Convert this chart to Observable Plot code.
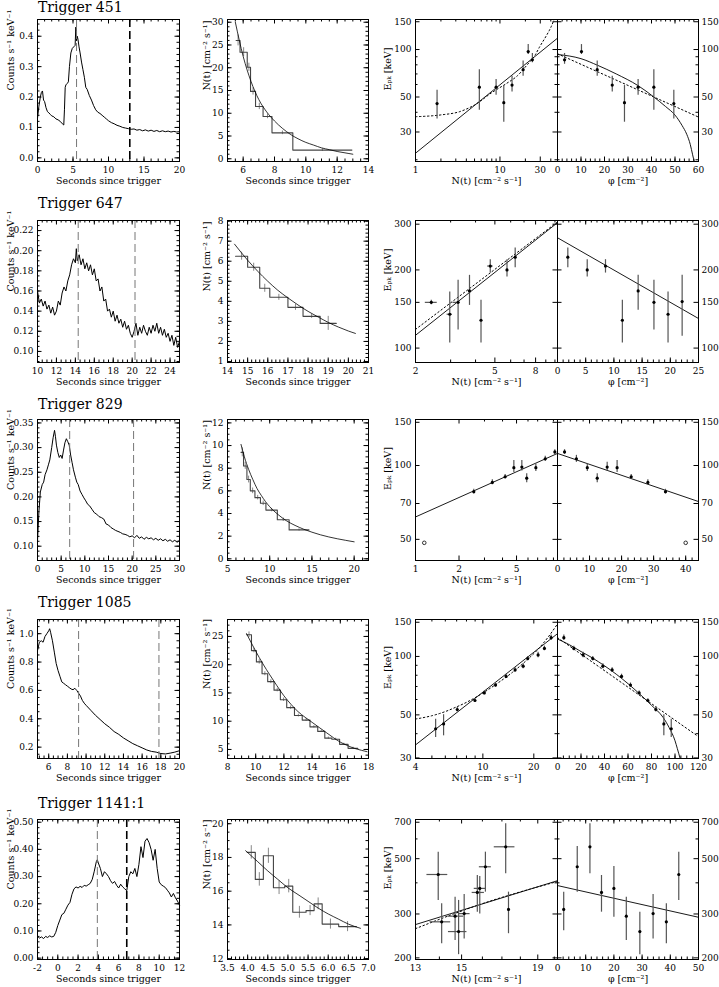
<!DOCTYPE html>
<html><head><meta charset="utf-8">
<script src="https://cdn.jsdelivr.net/npm/d3@7"></script>
<script src="https://cdn.jsdelivr.net/npm/@observablehq/plot@0.6"></script>
<style>
html,body{margin:0;padding:0;background:#fff;}
#fig{position:relative;width:719px;height:987px;overflow:hidden;background:#fff;}
.ttl{position:absolute;left:38px;font-family:'DejaVu Serif','Liberation Serif',serif;font-size:14px;line-height:1;white-space:nowrap;color:#000;}
</style></head><body><div id="fig"></div>
<script>
// ---------------- DATA ----------------
const titles = ["Trigger 451", "Trigger 647", "Trigger 829", "Trigger 1085", "Trigger 1141:1"];

// light curves [t, counts]
const lc451 = [[0,0.13],[0.2,0.17],[0.4,0.2],[0.55,0.215],[0.7,0.22],[0.85,0.19],[1.0,0.185],[1.2,0.165],[1.4,0.152],[1.6,0.148],[1.8,0.143],[2.0,0.138],[2.3,0.135],[2.6,0.128],[2.9,0.125],[3.2,0.12],[3.5,0.112],[3.7,0.108],[3.8,0.16],[3.9,0.232],[4.0,0.24],[4.2,0.245],[4.35,0.25],[4.5,0.3],[4.7,0.345],[4.9,0.36],[5.1,0.365],[5.3,0.37],[5.4,0.43],[5.5,0.385],[5.6,0.4],[5.7,0.39],[5.85,0.365],[6.0,0.345],[6.2,0.315],[6.4,0.29],[6.6,0.265],[6.8,0.232],[7.0,0.225],[7.3,0.205],[7.6,0.19],[7.9,0.172],[8.2,0.158],[8.5,0.15],[8.8,0.146],[9.1,0.14],[9.4,0.134],[9.7,0.128],[10.0,0.122],[10.4,0.116],[10.8,0.112],[11.2,0.107],[11.6,0.104],[12.0,0.1],[12.4,0.098],[12.8,0.096],[13.2,0.094],[13.6,0.095],[14.0,0.091],[14.4,0.093],[14.8,0.089],[15.2,0.092],[15.6,0.088],[16.0,0.091],[16.4,0.087],[16.8,0.09],[17.2,0.086],[17.6,0.089],[18.0,0.086],[18.4,0.088],[18.8,0.085],[19.2,0.087],[19.6,0.085],[20.0,0.086]];
const lc647 = [[10.0,0.160],[10.2,0.148],[10.4,0.152],[10.6,0.145],[10.8,0.150],[11.0,0.142],[11.2,0.146],[11.4,0.138],[11.6,0.144],[11.8,0.136],[12.0,0.140],[12.2,0.150],[12.4,0.146],[12.6,0.158],[12.8,0.164],[13.0,0.160],[13.2,0.170],[13.4,0.176],[13.6,0.186],[13.8,0.192],[14.0,0.188],[14.1,0.202],[14.2,0.190],[14.4,0.196],[14.6,0.186],[14.8,0.192],[15.0,0.182],[15.2,0.188],[15.4,0.180],[15.6,0.186],[15.8,0.176],[16.0,0.182],[16.2,0.170],[16.4,0.172],[16.6,0.160],[16.8,0.164],[17.0,0.150],[17.2,0.152],[17.4,0.140],[17.6,0.142],[17.8,0.134],[18.0,0.140],[18.2,0.130],[18.4,0.136],[18.6,0.128],[18.8,0.132],[19.0,0.124],[19.2,0.130],[19.4,0.122],[19.6,0.126],[19.8,0.118],[20.0,0.114],[20.2,0.120],[20.4,0.128],[20.6,0.116],[20.8,0.124],[21.0,0.118],[21.2,0.126],[21.4,0.120],[21.6,0.116],[21.8,0.124],[22.0,0.118],[22.2,0.126],[22.4,0.120],[22.6,0.128],[22.8,0.118],[23.0,0.124],[23.2,0.116],[23.4,0.122],[23.6,0.114],[23.8,0.118],[24.0,0.110],[24.2,0.116],[24.4,0.106],[24.6,0.114],[24.8,0.104],[25.0,0.110]];
const lc829 = [[0.0,0.110],[0.3,0.170],[0.6,0.210],[1.0,0.225],[1.3,0.230],[1.6,0.245],[2.0,0.255],[2.3,0.265],[2.6,0.275],[3.0,0.300],[3.3,0.320],[3.6,0.335],[3.8,0.322],[4.0,0.305],[4.3,0.290],[4.6,0.280],[4.9,0.285],[5.2,0.278],[5.5,0.295],[5.8,0.310],[6.1,0.318],[6.4,0.312],[6.7,0.305],[7.0,0.285],[7.3,0.270],[7.6,0.255],[8.0,0.240],[8.3,0.230],[8.6,0.225],[9.0,0.212],[9.4,0.205],[9.8,0.198],[10.2,0.192],[10.6,0.185],[11.0,0.182],[11.5,0.175],[12.0,0.168],[12.5,0.165],[13.0,0.160],[13.5,0.158],[14.0,0.155],[14.5,0.145],[15.0,0.143],[15.5,0.138],[16.0,0.135],[16.5,0.132],[17.0,0.130],[17.5,0.128],[18.0,0.125],[18.5,0.124],[19.0,0.122],[19.5,0.119],[20.0,0.121],[20.5,0.117],[21.0,0.122],[21.5,0.116],[22.0,0.119],[22.5,0.114],[23.0,0.118],[23.5,0.115],[24.0,0.117],[24.5,0.113],[25.0,0.116],[25.5,0.112],[26.0,0.115],[26.5,0.111],[27.0,0.114],[27.5,0.110],[28.0,0.113],[28.5,0.109],[29.0,0.112],[29.5,0.108],[30.0,0.112]];
const lc1085 = [[4.8,0.880],[5.0,0.940],[5.2,0.950],[5.4,0.940],[5.6,0.980],[5.8,1.000],[6.0,1.020],[6.1,1.035],[6.2,1.010],[6.4,0.950],[6.6,0.870],[6.8,0.790],[7.0,0.740],[7.2,0.700],[7.4,0.660],[7.6,0.650],[7.8,0.640],[8.0,0.630],[8.2,0.620],[8.4,0.610],[8.6,0.605],[8.8,0.615],[9.0,0.600],[9.2,0.580],[9.4,0.560],[9.6,0.530],[9.8,0.510],[10.0,0.495],[10.5,0.460],[11.0,0.425],[11.5,0.395],[12.0,0.365],[12.5,0.340],[13.0,0.310],[13.5,0.290],[14.0,0.265],[14.5,0.245],[15.0,0.225],[15.5,0.210],[16.0,0.195],[16.5,0.180],[17.0,0.170],[17.5,0.165],[18.0,0.155],[18.5,0.152],[19.0,0.158],[19.5,0.165],[20.0,0.175]];
const lc1141 = [[-2.0,0.080],[-1.8,0.074],[-1.6,0.078],[-1.4,0.072],[-1.2,0.080],[-1.0,0.076],[-0.8,0.082],[-0.6,0.078],[-0.4,0.080],[-0.2,0.095],[0.0,0.120],[0.2,0.140],[0.4,0.160],[0.6,0.165],[0.8,0.180],[1.0,0.195],[1.2,0.205],[1.4,0.235],[1.6,0.255],[1.8,0.262],[2.0,0.258],[2.2,0.264],[2.4,0.260],[2.6,0.268],[2.8,0.265],[3.0,0.270],[3.2,0.275],[3.4,0.290],[3.6,0.320],[3.8,0.355],[3.9,0.362],[4.0,0.350],[4.2,0.330],[4.4,0.300],[4.6,0.318],[4.8,0.310],[5.0,0.300],[5.2,0.285],[5.4,0.275],[5.6,0.282],[5.8,0.268],[6.0,0.258],[6.2,0.272],[6.4,0.262],[6.6,0.255],[6.8,0.248],[7.0,0.300],[7.2,0.318],[7.4,0.310],[7.6,0.330],[7.8,0.300],[8.0,0.345],[8.2,0.410],[8.4,0.370],[8.6,0.430],[8.8,0.440],[9.0,0.425],[9.2,0.400],[9.4,0.360],[9.6,0.400],[9.8,0.330],[10.0,0.280],[10.2,0.270],[10.4,0.265],[10.6,0.260],[10.8,0.250],[11.0,0.240],[11.2,0.225],[11.4,0.238],[11.6,0.222],[11.8,0.210],[12.0,0.195]];

// dashed interval markers (s)
const dash451 = [5.5, 13.0], dash647 = [14.3, 20.3], dash829 = [6.8, 20.3], dash1085 = [9.2, 17.8], dash1141 = [3.9, 6.8];

// N(t) binned histograms: edges, levels, errors
const bins451E = [5.55,5.8,6.26,6.47,6.79,7.27,7.84,9.17,12.94];
const bins451N = [26,23.4,20.1,14.8,11.5,9.3,5.7,1.9];
const bins451Err = [1.2,1.0,0.9,0.8,0.7,0.5,0.4,0.3];
const bins647E = [14.4,15.0,15.6,16.1,17.0,17.75,18.6,19.4];
const bins647N = [6.25,5.7,4.65,4.2,3.7,3.25,2.9];
const bins647Err = [0.2,0.2,0.2,0.15,0.15,0.1,0.35];
const bins829E = [6.6,6.9,7.3,7.7,8.25,8.9,9.55,10.9,12.3,14.65];
const bins829N = [9.4,8.2,7.0,6.0,5.4,4.9,4.3,3.45,2.55];
const bins829Err = [0.4,0.3,0.3,0.25,0.2,0.2,0.15,0.15,0.1];
const bins1085E = [9.35,9.7,10.05,10.45,10.85,11.3,11.75,12.2,12.75,13.3,13.85,14.4,14.9,15.4,15.95,16.55,17.25];
const bins1085N = [25.3,22.5,20.5,18.4,17.0,15.5,13.8,12.4,11.0,10.2,9.0,8.2,7.0,6.8,5.9,5.2];
const bins1085Err = [0.5,0.4,0.4,0.35,0.35,0.3,0.3,0.3,0.25,0.25,0.2,0.2,0.2,0.2,0.2,0.2];
const bins1141E = [3.99,4.19,4.39,4.64,4.92,5.12,5.45,5.65,5.85,6.26,6.7];
const bins1141N = [18.3,16.7,18.1,16.2,16.3,14.75,14.85,15.25,14.05,13.9];
const bins1141Err = [0.4,0.4,0.45,0.4,0.4,0.35,0.3,0.35,0.3,0.3];

// N(t) fitted decays [t, N]
const fit451 = [[5.5,30],[6,22.5],[6.5,17],[7,13],[7.5,10.3],[8,8.3],[8.5,6.7],[9,5.4],[9.5,4.4],[10,3.6],[10.5,3.0],[11,2.4],[11.5,2.0],[12,1.6],[12.5,1.3],[13,1.0]];
const fit647 = [[14.35,6.85],[15,6.05],[15.5,5.5],[16,5.0],[16.5,4.55],[17,4.17],[17.5,3.82],[18,3.5],[18.5,3.22],[19,2.95],[19.5,2.72],[20,2.52],[20.35,2.4]];
const fit829 = [[6.6,10.1],[7,9.0],[7.5,7.9],[8,7.0],[8.5,6.2],[9,5.6],[9.5,5.05],[10,4.6],[11,3.9],[12,3.35],[13,2.95],[14,2.62],[15,2.35],[16,2.12],[17,1.93],[18,1.77],[19,1.63],[20,1.5]];
const fit1085 = [[9.35,25.5],[10,22.4],[10.5,20.2],[11,18.2],[11.5,16.3],[12,14.5],[12.5,13.0],[13,11.7],[13.5,10.7],[14,9.8],[14.5,8.9],[15,8.0],[15.5,7.1],[16,6.3],[16.5,5.7],[17,5.2],[17.5,4.85],[17.9,4.6]];
const fit1141 = [[3.95,18.4],[4.25,17.75],[4.5,17.2],[4.75,16.7],[5.0,16.2],[5.25,15.8],[5.5,15.4],[5.75,15.0],[6.0,14.65],[6.25,14.35],[6.5,14.05],[6.8,13.8]];

// Epk vs N(t): [N, Epk, lo, hi, (Nlo, Nhi)]
const epN451 = [[1.8,45.4,36.3,55.1],[5.7,57.7,41.2,74.5],[9.0,57.7,51.3,64.5],[11.1,46,34.6,59.1],[13.9,59.5,53.8,67.6],[18.8,74.5,67.6,84.6],[21.6,97,93,107.5],[24.2,86,82.4,94.4]];
const epN647 = [[2.4,150,147,153,2.24,2.57],[2.97,135,104.5,164.5,2.88,3.06],[3.27,150,117.5,182.4,3.08,3.32],[3.73,166,146,190.6],[4.26,128,104.5,153],[4.74,207,194.5,219,4.6,4.9],[5.75,200,187.7,219],[6.32,224,204,243]];
const epN829 = [[2.53,78.2,76.5,80],[3.4,85.3,83.5,87.5],[4.17,90,88,92],[4.79,98,93.7,104.7],[5.44,98.5,94.9,104.7],[5.88,88.8,85,92.5],[6.8,98,94.5,101.5],[7.9,106.5,104,109],[9.2,113.6,111,116]];
const epN829open = [[1.15,48.4]];
const epN1085 = [[5.26,42.4,38.2,47.5],[5.86,44.9,39.0,50.1],[7.06,53.3,51.8,54.8],[8.98,59.3,58,60.6],[10.2,64.9,63.5,66.3],[11.88,71.2,69.5,73],[13.72,78.9,77,81],[15.5,85.2,83,87.5],[17.3,89.1,86.5,91.7],[18.4,97.5,95,100],[21.2,101.8,98.5,105],[23.1,110,107,113],[25.3,125,121,129]];
const epN1141 = [[13.95,432,340,531,13.47,14.37],[14.1,279,228,330,13.6,14.5],[14.7,294,235,350,14.37,15.1],[14.86,255,206,340,14.4,15.25],[15.12,301,238,359,14.85,15.4],[15.75,366,305,428,15.5,16.1],[15.87,380,300,424,15.6,16.2],[16.15,464,367,531,15.85,16.45],[17.2,558,435,690,16.6,17.7],[17.35,313,250,367]];

// Epk vs fluence phi: [phi, Epk, lo, hi]
const epF451 = [[3.0,86,80.6,94.4],[10.2,97,93,107.5],[16.9,74.5,67.6,84.6],[23.3,59.5,53.8,67.6],[28.5,46,34.6,59.1],[34.3,57.7,51.3,64.5],[41,57.7,41.2,74.5],[49.5,45.4,36.3,55.1]];
const epF647 = [[1.83,224,204,243],[5.27,200,187.7,219],[8.51,207,194.5,219],[11.5,128,104.5,153],[14.3,166,140,190.6],[17.1,150,117.5,182.4],[19.6,135,104.5,164.5],[22.1,151,111,190.6]];
const epF829 = [[2.2,113.6,111,116],[5.9,106.5,103,110],[9.3,98,94.5,101.5],[12.4,88.8,85,92.5],[15.5,98.5,95,103],[18.6,98,93.7,104.7],[23,90,88,92],[28.2,85.3,83.5,87.5],[33.7,78.2,76.5,80]];
const epF829open = [[40,48.4]];
const epF1085 = [[5.4,125,121,129],[13.9,110,107,113],[21.8,101.8,98.5,105],[30,97.5,95,100],[38.6,89.1,86.5,91.7],[46.5,85.2,83,87.5],[54.5,78.9,77,81],[62.1,71.2,69.5,73],[69.5,64.9,63.5,66.3],[76.9,59.3,58,60.6],[83.7,53.3,51.8,54.8],[90.5,44.9,39.0,50.1],[96.8,42.4,38.2,47.5]];
const epF1141 = [[2.2,313,257,367],[7.0,464,367,560],[11.5,558,435,690],[15.6,366,305,428],[20,380,291,465],[24.4,294,235,350],[29.2,255,206,305],[33.9,301,238,359],[38.6,279,228,330],[43,432,340,531]];

// model curves
const solN451 = [[1,22],[48,118]];
const dotN451 = [[1,37.5],[2,38.5],[3.4,40.5],[5,44.5],[8.3,54],[12,61],[16,68],[21,80],[26,92],[29.5,104],[35,121],[40,138],[44,156]];
const solF451 = [[0,93],[10,87.5],[17,79.5],[25,70],[34.3,59],[41,50],[46,43.5],[50,38.4],[53,33],[55,29],[56.5,25],[57.5,21.5],[58.2,19.4]];
const dotF451 = [[0,94],[60,37.3]];
const solN647 = [[2,112],[10.3,304]];
const dotN647 = [[2,118],[10.3,306]];
const solF647 = [[0,266],[25,130]];
const solN829 = [[1,61.7],[9.6,112]];
const solF829 = [[0,112],[44,71.3]];
const solN1085 = [[4,35],[27.6,131]];
const dotN1085 = [[4,47.6],[5,49.5],[6,52],[7,55],[8,58],[10,64.8],[12,72],[15,83],[18,95],[21,108],[24,124],[27.6,147]];
const solF1085 = [[0,123],[10,115],[20,106],[30,98],[40,89.5],[50,81],[60,72.4],[70,64],[80,56],[90,48.4],[95,43],[100,36.8],[102,33.5],[104.5,29.6]];
const dotF1085 = [[0,125],[120,38.6]];
const solN1141 = [[13,272],[20.2,408]];
const dotN1141 = [[13,262],[16,330],[20.2,405]];
const solF1141 = [[0,390],[50,291]];

// tick labels
const lcX451 = [0,5,10,15,20], lcY451 = [0,0.1,0.2,0.3,0.4];
const lcX647 = [10,12,14,16,18,20,22,24], lcY647 = [0.10,0.12,0.14,0.16,0.18,0.20,0.22];
const lcX829 = [0,5,10,15,20,25,30], lcY829 = [0.10,0.15,0.20,0.25,0.30,0.35];
const lcX1085 = [6,8,10,12,14,16,18,20], lcY1085 = [0.2,0.4,0.6,0.8,1.0];
const lcX1141 = [-2,0,2,4,6,8,10,12], lcY1141 = [0,0.1,0.2,0.3,0.4,0.5];
const nX451 = [6,8,10,12,14], nY451 = [0,5,10,15,20,25,30];
const nX647 = [14,15,16,17,18,19,20,21], nY647 = [1,2,3,4,5,6,7,8];
const nX829 = [5,10,15,20], nY829 = [0,2,4,6,8,10,12];
const nX1085 = [8,10,12,14,16,18], nY1085 = [5,10,15,20,25];
const nX1141 = [3.5,4.0,4.5,5.0,5.5,6.0,6.5,7.0], nY1141 = [12,14,16,18,20];
const eNX451 = [1,10,30], eNXm451 = [2,3,4,5,6,7,8,9,20,40], eY451 = [30,50,100,150], eYm451 = [20,40,60,70,80,90];
const eNX647 = [2,5,8], eNXm647 = [3,4,6,7,9,10], eY647 = [100,150,200,300], eYm647 = [];
const eNX829 = [1,2,5], eNXm829 = [3,4,6,7,8,9], eY829 = [50,70,100,150], eYm829 = [];
const eNX1085 = [4,10,20], eNXm1085 = [5,6,7,8,9], eY1085 = [30,50,100,150], eYm1085 = [40,60,70,80,90];
const eNX1141 = [13,15,19], eNXm1141 = [14,16,17,18,20], eY1141 = [200,300,500,700], eYm1141 = [400,600];
const eFX451 = [0,10,20,30,40,50,60], eFX647 = [0,5,10,15,20,25], eFX829 = [0,10,20,30,40], eFX1085 = [0,20,40,60,80,100,120], eFX1141 = [0,10,20,30,40,50];

// ---------------- DRAWING ----------------
const FONT = "'DejaVu Serif','Liberation Serif',serif";
const root = document.getElementById("fig");
const rowY = [[19,161],[220,362],[419,560],[619,758],[819,959]];
const titleTop = [0, 195.5, 397, 595.2, 796];

function within(arr, d) { const lo = Math.min(d[0], d[1]), hi = Math.max(d[0], d[1]); return arr.filter(v => v >= lo - 1e-9 && v <= hi + 1e-9); }
function minorStep(d, step) { const lo = Math.min(d[0], d[1]), hi = Math.max(d[0], d[1]); const a = []; for (let i = Math.ceil(lo / step - 1e-9); i * step <= hi + 1e-9; i++) a.push(+(i * step).toFixed(6)); return a; }
const fmtG = d => String(d);

function panel(p) {
  const ml = p.ml ?? 45, mr = p.mr ?? 32, mt = 6, mb = 32;
  const fw = p.x1 - p.x0, fh = p.y1 - p.y0;
  const xM = within(p.xMaj, p.xd), yM = within(p.yMaj, p.yd);
  const xm = within(p.xMin, p.xd), ym = within(p.yMin, p.yd);
  const T = 4.5, t = 2.5;
  const tk = [
    Plot.tickX(xM, {x: d => d, insetTop: fh - T, stroke: "black"}),
    Plot.tickX(xM, {x: d => d, insetBottom: fh - T, stroke: "black"}),
    Plot.tickX(xm, {x: d => d, insetTop: fh - t, stroke: "black"}),
    Plot.tickX(xm, {x: d => d, insetBottom: fh - t, stroke: "black"}),
    Plot.tickY(yM, {y: d => d, insetRight: fw - T, stroke: "black"}),
    Plot.tickY(yM, {y: d => d, insetLeft: fw - T, stroke: "black"}),
    Plot.tickY(ym, {y: d => d, insetRight: fw - t, stroke: "black"}),
    Plot.tickY(ym, {y: d => d, insetLeft: fw - t, stroke: "black"})
  ];
  const ax = [Plot.axisX({ticks: within(p.xLab, p.xd), tickSize: 0, tickPadding: 5.5, tickFormat: p.xFmt || fmtG, label: null, fill: "black", fontSize: 9})];
  if (p.yLeft) ax.push(Plot.axisY({anchor: "left", ticks: within(p.yLab, p.yd), tickSize: 0, tickPadding: 4, tickFormat: p.yFmt || fmtG, label: null, fill: "black", fontSize: 9}));
  if (p.yRight) ax.push(Plot.axisY({anchor: "right", ticks: within(p.yLab, p.yd), tickSize: 0, tickPadding: 3, tickFormat: p.yFmt || fmtG, label: null, fill: "black", fontSize: 9}));
  const txt = [];
  if (p.xTitle) txt.push(Plot.text([p.xTitle], {frameAnchor: "bottom", dy: 22, text: d => d, fill: "black", fontSize: 9.5}));
  if (p.yTitle) txt.push(Plot.text([p.yTitle], {frameAnchor: "left", rotate: -90, dx: p.yTitleDx, text: d => d, fill: "black", fontSize: 9.5}));
  const svg = Plot.plot({
    width: fw + ml + mr, height: fh + mt + mb,
    marginLeft: ml, marginRight: mr, marginTop: mt, marginBottom: mb,
    x: {type: p.xType || "linear", domain: p.xd},
    y: {type: p.yType || "linear", domain: p.yd},
    style: {background: "transparent", fontFamily: FONT, fontSize: "9px", overflow: "visible", color: "black"},
    marks: [...p.marks, ...tk, Plot.frame({stroke: "black", strokeWidth: 1}), ...ax, ...txt]
  });
  svg.style.position = "absolute";
  svg.style.left = (p.x0 - ml) + "px";
  svg.style.top = (p.y0 - mt) + "px";
  svg.style.maxWidth = "none";
  root.appendChild(svg);
}

function lcMarks(lc, dash, dark2) {
  return [
    Plot.line(lc, {x: d => d[0], y: d => d[1], stroke: "black", strokeWidth: 1}),
    Plot.ruleX([dash[0]], {x: d => d, stroke: "#777", strokeWidth: 1, strokeDasharray: "8,4"}),
    Plot.ruleX([dash[1]], {x: d => d, stroke: dark2 ? "black" : "#777", strokeWidth: dark2 ? 1.6 : 1, strokeDasharray: "8,4"})
  ];
}
function nMarks(E, N, Err, fit) {
  const pts = N.map((v, i) => [E[i], v]); pts.push([E[E.length - 1], N[N.length - 1]]);
  const bars = N.map((v, i) => ({t: (E[i] + E[i + 1]) / 2, lo: v - Err[i], hi: v + Err[i]}));
  return [
    Plot.ruleX(bars, {x: "t", y1: "lo", y2: "hi", stroke: "#888", strokeWidth: 1}),
    Plot.line(pts, {x: d => d[0], y: d => d[1], curve: "step-after", stroke: "#444", strokeWidth: 1.1}),
    Plot.line(fit, {x: d => d[0], y: d => d[1], curve: "monotone-x", stroke: "black", strokeWidth: 0.8, clip: true})
  ];
}
function eMarks(pts, sol, dot, open) {
  const m = [];
  if (dot) m.push(Plot.line(dot, {x: d => d[0], y: d => d[1], curve: "monotone-x", stroke: "black", strokeWidth: 1, strokeDasharray: "1.5,2.5", clip: true}));
  if (sol) m.push(Plot.line(sol, {x: d => d[0], y: d => d[1], curve: "monotone-x", stroke: "black", strokeWidth: 0.9, clip: true}));
  m.push(Plot.ruleX(pts.filter(d => d.length > 3), {x: d => d[0], y1: d => d[2], y2: d => d[3], stroke: "#555", strokeWidth: 1.2}));
  m.push(Plot.ruleY(pts.filter(d => d.length > 5), {y: d => d[1], x1: d => d[4], x2: d => d[5], stroke: "#555", strokeWidth: 1.2}));
  m.push(Plot.dot(pts, {x: d => d[0], y: d => d[1], r: 1.6, fill: "black", stroke: "none"}));
  if (open) m.push(Plot.dot(open, {x: d => d[0], y: d => d[1], r: 1.8, fill: "white", stroke: "black", strokeWidth: 0.8}));
  return m;
}

const YT1 = "Counts s\u207B\u00B9 keV\u207B\u00B9";
const YT2 = "N(t) [cm\u207B\u00B2 s\u207B\u00B9]";
const YT3 = "E\u209A\u2096 [keV]";
const XT1 = "Seconds since trigger";
const XT3 = "N(t) [cm\u207B\u00B2 s\u207B\u00B9]";
const XT4 = "\u03C6 [cm\u207B\u00B2]";

const rows = [
  {lc: lc451, dash: dash451, dark2: true, lcxd: [0,20], lcyd: [-0.012,0.455], lcX: lcX451, lcY: lcY451, lcxs: 1, lcys: 0.02, lcyf: d3.format(".1f"),
   E: bins451E, N: bins451N, Err: bins451Err, fit: fit451, nxd: [5,14], nyd: [-0.6,30.6], nX: nX451, nY: nY451, nxs: 0.5, nys: 1, nxf: null,
   ep: epN451, sN: solN451, dN: dotN451, oN: null, exd: [1,48], eyd: [19.5,155], eX: eNX451, eXm: eNXm451, eY: eY451, eYm: eYm451,
   ef: epF451, sF: solF451, dF: dotF451, oF: null, fxd: [0,60], fX: eFX451, fxs: 2},
  {lc: lc647, dash: dash647, dark2: false, lcxd: [10,25], lcyd: [0.089,0.23], lcX: lcX647, lcY: lcY647, lcxs: 0.5, lcys: 0.005, lcyf: d3.format(".2f"),
   E: bins647E, N: bins647N, Err: bins647Err, fit: fit647, nxd: [14,21], nyd: [0.95,8.03], nX: nX647, nY: nY647, nxs: 0.2, nys: 0.2, nxf: null,
   ep: epN647, sN: solN647, dN: dotN647, oN: null, exd: [2,10.3], eyd: [88,310], eX: eNX647, eXm: eNXm647, eY: eY647, eYm: eYm647,
   ef: epF647, sF: solF647, dF: null, oF: null, fxd: [0,25], fX: eFX647, fxs: 1},
  {lc: lc829, dash: dash829, dark2: false, lcxd: [0,30], lcyd: [0.071,0.357], lcX: lcX829, lcY: lcY829, lcxs: 1, lcys: 0.01, lcyf: d3.format(".2f"),
   E: bins829E, N: bins829N, Err: bins829Err, fit: fit829, nxd: [5,21.7], nyd: [-0.15,12.3], nX: nX829, nY: nY829, nxs: 1, nys: 0.5, nxf: null,
   ep: epN829, sN: solN829, dN: null, oN: epN829open, exd: [1,9.6], eyd: [41,154], eX: eNX829, eXm: eNXm829, eY: eY829, eYm: eYm829,
   ef: epF829, sF: solF829, dF: null, oF: epF829open, fxd: [0,44], fX: eFX829, fxs: 2},
  {lc: lc1085, dash: dash1085, dark2: false, lcxd: [4.8,20], lcyd: [0.12,1.1], lcX: lcX1085, lcY: lcY1085, lcxs: 0.5, lcys: 0.05, lcyf: d3.format(".1f"),
   E: bins1085E, N: bins1085N, Err: bins1085Err, fit: fit1085, nxd: [8,18], nyd: [3.4,28], nX: nX1085, nY: nY1085, nxs: 0.5, nys: 1, nxf: null,
   ep: epN1085, sN: solN1085, dN: dotN1085, oN: null, exd: [4,27.6], eyd: [29.8,155], eX: eNX1085, eXm: eNXm1085, eY: eY1085, eYm: eYm1085,
   ef: epF1085, sF: solF1085, dF: dotF1085, oF: null, fxd: [0,120], fX: eFX1085, fxs: 5},
  {lc: lc1141, dash: dash1141, dark2: true, lcxd: [-2,12], lcyd: [-0.005,0.51], lcX: lcX1141, lcY: lcY1141, lcxs: 0.5, lcys: 0.02, lcyf: d3.format(".2f"),
   E: bins1141E, N: bins1141N, Err: bins1141Err, fit: fit1141, nxd: [3.5,7.0], nyd: [11.95,20.25], nX: nX1141, nY: nY1141, nxs: 0.1, nys: 0.5, nxf: d3.format(".1f"),
   ep: epN1141, sN: solN1141, dN: dotN1141, oN: null, exd: [13,20.2], eyd: [197,718], eX: eNX1141, eXm: eNXm1141, eY: eY1141, eYm: eYm1141,
   ef: epF1141, sF: solF1141, dF: null, oF: null, fxd: [0,50], fX: eFX1141, fxs: 2}
];

rows.forEach((r, i) => {
  const [y0, y1] = rowY[i];
  const tdiv = document.createElement("div");
  tdiv.className = "ttl"; tdiv.style.top = titleTop[i] + "px"; tdiv.textContent = titles[i];
  root.appendChild(tdiv);
  panel({x0: 37, x1: 179, y0, y1, xd: r.lcxd, yd: r.lcyd, xMaj: r.lcX, xMin: minorStep(r.lcxd, r.lcxs), yMaj: r.lcY, yMin: minorStep(r.lcyd, r.lcys),
    xLab: r.lcX, yLab: r.lcY, yFmt: r.lcyf, yLeft: true, xTitle: XT1, yTitle: YT1, yTitleDx: -27, marks: lcMarks(r.lc, r.dash, r.dark2)});
  panel({x0: 227, x1: 368, y0, y1, xd: r.nxd, yd: r.nyd, xMaj: r.nX, xMin: minorStep(r.nxd, r.nxs), yMaj: r.nY, yMin: minorStep(r.nyd, r.nys),
    xLab: r.nX, yLab: r.nY, xFmt: r.nxf, yLeft: true, xTitle: XT1, yTitle: YT2, yTitleDx: -21, marks: nMarks(r.E, r.N, r.Err, r.fit)});
  panel({x0: 415, x1: 557, y0, y1, mr: 0, xType: "log", yType: "log", xd: r.exd, yd: r.eyd, xMaj: r.eX, xMin: r.eXm, yMaj: r.eY, yMin: r.eYm,
    xLab: r.eX, yLab: r.eY, yLeft: true, xTitle: XT3, yTitle: YT3, yTitleDx: -28, marks: eMarks(r.ep, r.sN, r.dN, r.oN)});
  panel({x0: 557, x1: 698, y0, y1, ml: 0, yType: "log", xd: r.fxd, yd: r.eyd, xMaj: r.fX, xMin: minorStep(r.fxd, r.fxs), yMaj: r.eY, yMin: r.eYm,
    xLab: r.fX, yLab: r.eY, yRight: true, xTitle: XT4, marks: eMarks(r.ef, r.sF, r.dF, r.oF)});
});
</script></body></html>
